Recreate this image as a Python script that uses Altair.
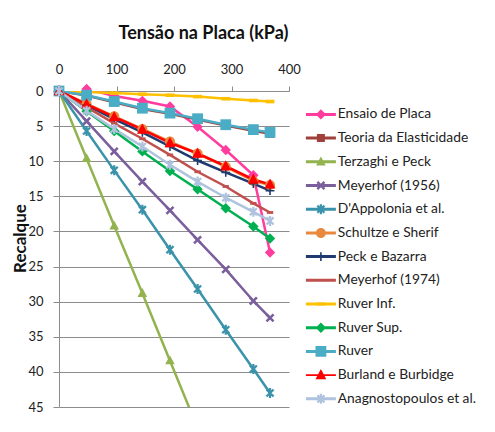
import altair as alt
import pandas as pd
import numpy as np

# ---------------- data ----------------
tensao = [0, 48, 96, 145, 193, 241, 290, 338, 367]

series = [
    "Ensaio de Placa", "Teoria da Elasticidade", "Terzaghi e Peck", "Meyerhof (1956)",
    "D'Appolonia et al.", "Schultze e Sherif", "Peck e Bazarra", "Meyerhof (1974)",
    "Ruver Inf.", "Ruver Sup.", "Ruver", "Burland e Burbidge", "Anagnostopoulos et al.",
]

ensaio = [0, -0.3, 0.7, 1.4, 2.2, 5.1, 8.4, 12.0, 23.0]
teoria = [0, 0.65, 1.6, 2.55, 3.25, 4.05, 4.9, 5.65, 6.1]
terzaghi = [0, 9.6, 19.2, 28.8, 38.4, 48.0, None, None, None]
meyerhof56 = [0, 4.3, 8.6, 12.9, 17.0, 21.2, 25.4, 29.9, 32.3]
dappolonia = [0, 5.7, 11.3, 16.9, 22.6, 28.2, 34.0, 39.6, 43.0]
schultze = [0, 1.8, 3.6, 5.4, 7.2, 8.9, 10.8, 12.8, 13.4]
peck = [0, 2.0, 4.0, 5.9, 7.9, 9.9, 11.6, 13.2, 14.2]
meyerhof74 = [0, 2.3, 4.6, 6.8, 9.1, 11.5, 13.6, 16.0, 17.3]
ruver_inf = [0, 0.15, 0.3, 0.45, 0.6, 0.8, 1.1, 1.35, 1.5]
ruver_sup = [0, 2.9, 5.7, 8.6, 11.4, 14.0, 16.7, 19.3, 21.0]
ruver = [0, 0.6, 1.5, 2.45, 3.15, 3.95, 4.8, 5.5, 5.9]
burland = [0, 1.9, 3.7, 5.5, 7.4, 8.9, 10.7, 12.6, 13.3]
anagno = [0, 2.8, 5.4, 7.9, 10.5, 12.9, 15.2, 17.2, 18.5]

values = [ensaio, teoria, terzaghi, meyerhof56, dappolonia, schultze, peck,
          meyerhof74, ruver_inf, ruver_sup, ruver, burland, anagno]

colors = ["#FF3D9E", "#A0403B", "#93B34F", "#7B5E9C", "#3A93AB", "#E8893E", "#1F3A6E",
          "#C0504D", "#FFC000", "#00B050", "#4BACC6", "#FF0000", "#AFC3DE"]
widths = [2.5, 2.5, 2.5, 2.5, 2.5, 2.5, 2.5, 2.5, 2.5, 2.5, 2.5, 1.5, 2.5]

rows = []
for i, (name, vals) in enumerate(zip(series, values)):
    for x, y in zip(tensao, vals):
        if y is not None:
            rows.append({"Série": name, "ordem": i, "Tensão": x, "Recalque": y})
df = pd.DataFrame(rows)

# ---------------- marker shapes (unit = 4 px) ----------------
def poly(pts):
    return "M" + "L".join(f"{x:.3f},{y:.3f}" for x, y in pts) + "Z"

def rect(hw, hh):
    return poly([(-hw, -hh), (hw, -hh), (hw, hh), (-hw, hh)])

def bar(L, t, ang):
    a = np.deg2rad(ang)
    c, s = np.cos(a), np.sin(a)
    pts = [(-L, -t), (L, -t), (L, t), (-L, t)]
    return poly([(x * c - y * s, x * s + y * c) for x, y in pts])

def diamond(r):
    return poly([(0, -r), (r, 0), (0, r), (-r, 0)])

def tri(h, w):
    return poly([(0, -h), (w, 0.7 * h), (-w, 0.7 * h)])

def circle(r):
    return (f"M{r},0A{r},{r} 0 1,1 {-r},0A{r},{r} 0 1,1 {r},0Z")

xmark = bar(1.25, 0.32, 45) + bar(1.25, 0.32, -45)
star = bar(1.25, 0.28, 45) + bar(1.25, 0.28, -45) + bar(1.25, 0.28, 90)
plus = bar(1.1, 0.2, 0) + bar(1.1, 0.2, 90)

markers = [
    diamond(1.3), rect(1.0, 1.0), tri(1.3, 1.2), xmark, star, circle(1.25), plus,
    rect(0.8, 0.35), rect(1.1, 0.45), diamond(1.3), rect(1.35, 1.35), tri(1.5, 1.35), star,
]
legend_line = [rect(3.75, 0.38)] * 13
legend_line[11] = rect(3.75, 0.22)
legend_shapes = [l + m for l, m in zip(legend_line, markers)]

# ---------------- chart ----------------
FONT = "Lato"
GRID = "#8C8C8C"

x_enc = alt.X(
    "Tensão:Q",
    scale=alt.Scale(domain=[0, 400], nice=False),
    axis=alt.Axis(
        orient="top", values=[0, 100, 200, 300, 400], grid=False, labelFlush=False,
        title="Tensão na Placa (kPa)", titleFont=FONT, titleFontSize=18,
        titleFontWeight="bold", titleColor="#111", titleX=144, titleY=-58,
        titleAlign="center", titleBaseline="middle",
        labelFont=FONT, labelFontSize=13, labelColor="#222", labelPadding=10,
        tickSize=5, tickColor=GRID, domainColor=GRID,
    ),
)
y_enc = alt.Y(
    "Recalque:Q",
    scale=alt.Scale(domain=[0, 45], reverse=True, nice=False),
    axis=alt.Axis(
        values=list(range(0, 50, 5)), grid=True, gridColor=GRID, gridWidth=1,
        labelFlush=False,
        title="Recalque", titleFont=FONT, titleFontSize=17, titleFontWeight="bold",
        titleColor="#111", titleX=-39, titleY=147, titleAngle=270,
        titleAlign="center", titleBaseline="middle",
        labelFont=FONT, labelFontSize=13, labelColor="#222", labelPadding=10,
        tickSize=6, tickColor=GRID, domainColor=GRID,
    ),
)

color_scale = alt.Scale(domain=series, range=colors)
base = alt.Chart(df)

lines = base.mark_line(clip=True).encode(
    x=x_enc, y=y_enc,
    color=alt.Color("Série:N", scale=color_scale, legend=None),
    strokeWidth=alt.StrokeWidth("Série:N", scale=alt.Scale(domain=series, range=widths), legend=None),
    order=alt.Order("Tensão:Q"),
)

points = base.transform_filter("datum.Recalque <= 45").mark_point(
    filled=True, size=64, opacity=1
).encode(
    x=x_enc, y=y_enc,
    color=alt.Color("Série:N", scale=color_scale, legend=None),
    shape=alt.Shape("Série:N", scale=alt.Scale(domain=series, range=markers), legend=None),
    order=alt.Order("ordem:Q"),
)

leg = alt.Legend(
    orient="none", legendX=255, legendY=16.5, title=None, symbolSize=64,
    labelOffset=10, rowPadding=8.7, labelFont=FONT, labelFontSize=13.8,
    labelColor="#222", padding=0, labelLimit=300, symbolStrokeWidth=0,
)
legend_layer = base.transform_filter("datum.Recalque < -100").mark_point(
    filled=True, size=64, opacity=1
).encode(
    x=x_enc, y=y_enc,
    color=alt.Color("Série:N", scale=color_scale, legend=leg),
    shape=alt.Shape("Série:N", scale=alt.Scale(domain=series, range=legend_shapes), legend=leg),
)

chart = alt.layer(lines, points, legend_layer).resolve_scale(
    color="independent", shape="independent"
).resolve_legend(
    color="independent", shape="independent"
).properties(
    width=230, height=316,
    autosize=alt.AutoSizeParams(type="none"),
    padding={"left": 51, "top": 83, "right": 197, "bottom": 10},
    background="white",
).configure_view(strokeWidth=0)

chart.save("out.html", embed_options={"renderer": "svg", "actions": False})
